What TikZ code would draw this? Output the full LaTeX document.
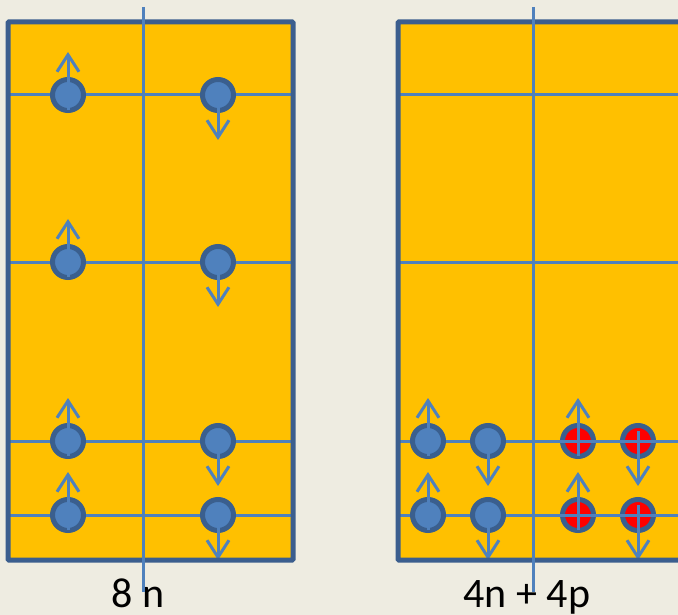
\documentclass[tikz,border=0pt]{standalone}
\usepackage{fontspec}
\setmainfont{Carlito}
\usetikzlibrary{arrows.meta}
\definecolor{paper}{HTML}{EEECE1}
\definecolor{well}{HTML}{FFC000}
\definecolor{frame}{HTML}{3B5E8E}
\definecolor{wirec}{HTML}{4F81BD}
\definecolor{rim}{HTML}{3A5F8E}

\begin{document}
\begin{tikzpicture}[x=1pt, y=-1pt,
  frm/.style={draw=frame, line width=5pt, rounded corners=1pt},
  wire/.style={draw=wirec, line width=3pt},
  nuc/.style={circle, minimum size=31pt, inner sep=0pt, draw=rim, line width=5pt},
  neut/.style={nuc, fill=wirec},
  prot/.style={nuc, fill=red},
  spin/.style={wire, -{Straight Barb[length=17pt, width=22pt]}},
  lbl/.style={font=\fontsize{42}{50}\selectfont, inner sep=0pt, anchor=base},
]
  \fill[paper] (0,0) rectangle (678,615);
  \useasboundingbox (0,0) rectangle (678,615);
  \clip (0,0) rectangle (678,615);

  % wells
  \fill[well] (8,22) rectangle (293,560);
  \fill[well] (398,22) rectangle (700,560);
  \foreach \y in {95,262,441,515} {
    \draw[wire] (8,\y) -- (293,\y);
    \draw[wire] (398,\y) -- (700,\y);
  }

  % left well: 8 neutrons
  \foreach \y [count=\i] in {95,262,441,515} {
    \node[neut] (lu\i) at (68,\y) {};
    \node[neut] (ld\i) at (218,\y) {};
    \draw[spin] (lu\i.center) ++(0,15) -- ++(0,-58);
    \draw[spin] (ld\i.center) ++(0,-10) -- ++(0,55);
  }

  % right well: 4 neutrons + 4 protons
  \foreach \y [count=\i] in {441,515} {
    \node[neut] (ru\i) at (428,\y) {};
    \node[neut] (rd\i) at (488,\y) {};
    \node[prot] (pu\i) at (578,\y) {};
    \node[prot] (pd\i) at (638,\y) {};
    \draw[wire] (pu\i.west) -- (pu\i.east);
    \draw[wire] (pd\i.west) -- (pd\i.east);
    \draw[spin] (ru\i.center) ++(0,15) -- ++(0,-58);
    \draw[spin] (rd\i.center) ++(0,-10) -- ++(0,55);
    \draw[spin] (pu\i.center) ++(0,15) -- ++(0,-58);
    \draw[spin] (pd\i.center) ++(0,-10) -- ++(0,55);
  }

  \draw[frm] (8,22) rectangle (293,560);
  \draw[frm] (398,22) rectangle (700,560);

  % labels
  \node[lbl] (nl) at (138,607) {8 n};
  \node[lbl] (nr) at (527,607) {4n + 4p};

  \draw[wire] (143,7) -- (143,592);
  \draw[wire] (533,7) -- (533,592);
\end{tikzpicture}
\end{document}
